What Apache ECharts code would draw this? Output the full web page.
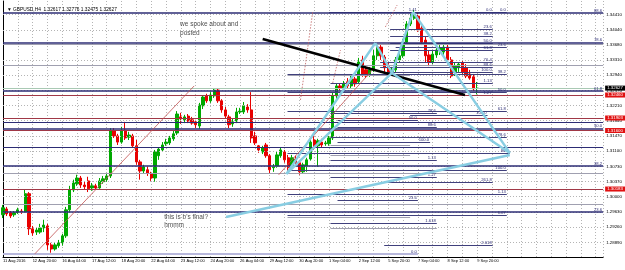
<!DOCTYPE html>
<html><head><meta charset="utf-8">
<script src="https://cdn.jsdelivr.net/npm/echarts@6.0.0/dist/echarts.min.js"></script>
<style>html,body{margin:0;padding:0;background:#fff;}#chart{width:625px;height:270px;}</style>
</head><body><div id="chart"></div>
<script>
const chartTitle = '\u25BC GBPUSD,H4  1.32617 1.32776 1.32475 1.32627';
const timeLabels = ["11 Aug 2016","12 Aug 20:00","16 Aug 04:00","17 Aug 12:00","18 Aug 20:00","22 Aug 04:00","23 Aug 12:00","24 Aug 20:00","26 Aug 04:00","29 Aug 12:00","30 Aug 20:00","1 Sep 04:00","2 Sep 12:00","5 Sep 20:00","7 Sep 04:00","8 Sep 12:00","9 Sep 20:00"];
const barsPerLabel = 8;
const priceTicks = [1.34410,1.34040,1.33680,1.33310,1.32940,1.32570,1.32210,1.31840,1.31470,1.31100,1.30730,1.30370,1.30000,1.29630,1.29260,1.28890,1.28520];
// [open, close, low, high]
const ohlc = [
[1.2956,1.2973,1.2948,1.2980],[1.2970,1.2958,1.2953,1.2975],[1.2961,1.2953,1.2948,1.2965],[1.2956,1.2961,1.2951,1.2965],
[1.2961,1.2968,1.2958,1.2973],[1.2965,1.2963,1.2958,1.2970],[1.2963,1.3007,1.2961,1.3016],[1.3007,1.2922,1.2907,1.3011],
[1.2922,1.2912,1.2905,1.2929],[1.2914,1.2919,1.2907,1.2924],[1.2914,1.2924,1.2910,1.2934],[1.2924,1.2931,1.2914,1.2944],
[1.2929,1.2883,1.2871,1.2934],[1.2883,1.2873,1.2864,1.2888],[1.2873,1.2883,1.2869,1.2888],[1.2881,1.2888,1.2876,1.2895],
[1.2888,1.2905,1.2881,1.2910],[1.2905,1.2968,1.2900,1.2975],[1.2968,1.3016,1.2963,1.3026],[1.3016,1.3033,1.3011,1.3041],
[1.3031,1.3045,1.3026,1.3053],[1.3045,1.3028,1.3021,1.3050],[1.3028,1.3024,1.3016,1.3036],[1.3038,1.3019,1.3011,1.3048],
[1.3021,1.3026,1.3014,1.3033],[1.3026,1.3021,1.3016,1.3031],[1.3021,1.3038,1.3019,1.3045],[1.3036,1.3043,1.3031,1.3050],
[1.3041,1.3050,1.3036,1.3055],[1.3050,1.3159,1.3045,1.3166],[1.3159,1.3147,1.3142,1.3166],[1.3147,1.3132,1.3125,1.3152],
[1.3132,1.3161,1.3128,1.3169],[1.3161,1.3142,1.3137,1.3181],[1.3144,1.3149,1.3137,1.3157],[1.3147,1.3123,1.3118,1.3152],
[1.3123,1.3084,1.3077,1.3137],[1.3084,1.3062,1.3041,1.3089],[1.3062,1.3072,1.3057,1.3077],[1.3065,1.3057,1.3050,1.3072],
[1.3055,1.3045,1.3038,1.3060],[1.3045,1.3108,1.3036,1.3113],[1.3099,1.3115,1.3089,1.3120],[1.3113,1.3125,1.3108,1.3132],
[1.3128,1.3132,1.3123,1.3140],[1.3130,1.3142,1.3125,1.3147],[1.3140,1.3152,1.3135,1.3159],[1.3154,1.3200,1.3149,1.3207],
[1.3193,1.3188,1.3176,1.3203],[1.3186,1.3193,1.3178,1.3198],[1.3195,1.3183,1.3178,1.3200],[1.3186,1.3178,1.3174,1.3193],
[1.3181,1.3174,1.3166,1.3186],[1.3171,1.3222,1.3164,1.3227],[1.3220,1.3241,1.3212,1.3246],[1.3244,1.3232,1.3227,1.3249],
[1.3232,1.3246,1.3227,1.3253],[1.3244,1.3258,1.3239,1.3263],[1.3258,1.3232,1.3227,1.3263],[1.3232,1.3210,1.3203,1.3236],
[1.3210,1.3195,1.3188,1.3217],[1.3193,1.3174,1.3166,1.3198],[1.3176,1.3181,1.3169,1.3188],[1.3183,1.3205,1.3178,1.3215],
[1.3205,1.3207,1.3200,1.3215],[1.3205,1.3220,1.3200,1.3229],[1.3217,1.3210,1.3203,1.3224],[1.3210,1.3142,1.3130,1.3253],
[1.3147,1.3130,1.3125,1.3157],[1.3123,1.3113,1.3106,1.3125],[1.3108,1.3118,1.3103,1.3123],[1.3125,1.3099,1.3094,1.3130],
[1.3099,1.3065,1.3057,1.3103],[1.3070,1.3072,1.3060,1.3079],[1.3074,1.3101,1.3070,1.3108],[1.3099,1.3113,1.3094,1.3120],
[1.3108,1.3089,1.3082,1.3113],[1.3094,1.3070,1.3062,1.3101],[1.3074,1.3094,1.3070,1.3101],[1.3091,1.3082,1.3074,1.3099],
[1.3082,1.3060,1.3053,1.3087],[1.3060,1.3077,1.3055,1.3082],[1.3074,1.3089,1.3060,1.3094],[1.3091,1.3132,1.3087,1.3144],
[1.3137,1.3123,1.3113,1.3147],[1.3123,1.3135,1.3072,1.3140],[1.3132,1.3125,1.3120,1.3140],[1.3128,1.3130,1.3123,1.3135],
[1.3128,1.3142,1.3123,1.3147],[1.3142,1.3244,1.3137,1.3251],[1.3244,1.3268,1.3236,1.3275],[1.3268,1.3263,1.3256,1.3275],
[1.3263,1.3273,1.3258,1.3280],[1.3278,1.3268,1.3263,1.3287],[1.3268,1.3285,1.3263,1.3292],[1.3285,1.3273,1.3266,1.3290],
[1.3278,1.3326,1.3273,1.3336],[1.3331,1.3297,1.3290,1.3341],[1.3307,1.3292,1.3287,1.3316],[1.3297,1.3307,1.3290,1.3314],
[1.3307,1.3341,1.3302,1.3355],[1.3341,1.3362,1.3331,1.3372],[1.3362,1.3341,1.3331,1.3367],[1.3338,1.3312,1.3302,1.3343],
[1.3316,1.3302,1.3297,1.3324],[1.3302,1.3307,1.3297,1.3314],[1.3307,1.3331,1.3302,1.3338],[1.3331,1.3341,1.3326,1.3348],
[1.3341,1.3374,1.3336,1.3382],[1.3374,1.3418,1.3370,1.3425],[1.3418,1.3432,1.3413,1.3442],[1.3432,1.3437,1.3428,1.3452],
[1.3437,1.3404,1.3399,1.3447],[1.3408,1.3374,1.3367,1.3418],[1.3379,1.3341,1.3326,1.3387],[1.3343,1.3326,1.3316,1.3355],
[1.3326,1.3345,1.3321,1.3355],[1.3343,1.3355,1.3336,1.3362],[1.3353,1.3360,1.3343,1.3367],[1.3350,1.3362,1.3343,1.3367],
[1.3362,1.3331,1.3324,1.3372],[1.3331,1.3292,1.3287,1.3338],[1.3302,1.3316,1.3292,1.3324],[1.3312,1.3321,1.3302,1.3326],
[1.3324,1.3302,1.3295,1.3329],[1.3312,1.3292,1.3287,1.3321],[1.3297,1.3287,1.3283,1.3307],[1.3290,1.3261,1.3256,1.3297],
[1.32617,1.32627,1.32475,1.32776]
];
const totalSlots = 162;
// full-width fibonacci levels [price, label]
const fibFull = [[1.34446,'88.6'],[1.33732,'78.6'],[1.32557,'61.8'],[1.31649,'50.0'],[1.30741,'38.2'],[1.29626,'23.6']];
const navyThinFull = [1.31806, 1.31201];
const grayFull = [1.33683, 1.33187, 1.30571, 1.29820];
// horizontal line objects [price, label]
const hLines = [[1.32460,''],[1.31903,''],[1.31600,''],[1.30183,'1.41']];
// partial fib segments [fromBar, toBar, price, label]
const fibSegs = [
[104.5,132.2,1.34059,'23.6'],[104.5,132.2,1.33889,'38.2'],[104.5,132.2,1.33720,'50.0'],[106,136,1.33610,'23.6'],
[104.5,132.2,1.33550,'61.8'],[101.8,132.2,1.33259,'76.4'],[101.8,132.2,1.33138,'88.6'],[101.8,132.2,1.33017,'100.0'],
[76.8,136,1.32969,'38.2'],[88.4,132.2,1.32751,'1.13'],[76.8,136,1.32533,'50.0'],[88.4,132.2,1.32460,'1.27'],
[76.8,136,1.32073,'61.8'],[88.4,117.1,1.32024,'78.6'],[109.9,130.8,1.31976,'100.0'],[90.3,112,1.31855,'50.0'],
[90.3,117.1,1.31685,'88.6'],[88.4,136,1.31443,'78.6'],[90.3,115.3,1.31322,'100.0'],[76.8,136.8,1.31055,'88.6'],
[88.4,117.1,1.30886,'1.13'],[76.8,136,1.30644,'100.0'],[88.4,117.1,1.30474,'1.27'],[101.8,132.2,1.30353,'261.8'],
[76.8,136,1.30062,'1.13'],[90.3,112,1.29917,'23.6'],[76.8,136,1.29554,'1.27'],[88.4,117.1,1.29360,'1.618'],
[102.9,132.2,1.28827,'2.618'],[109.9,132.2,1.34458,'0.0'],[109.9,136,1.34458,'0.0'],[88,112,1.34470,'1.41']
];
const graySegs = [[88.4,109.9,1.31249],[88.4,109.9,1.31007],[76.8,109.9,1.29505],[88.4,117.1,1.29239],[76.8,109.9,1.32945]];
const lavenderSeg = [0, 112, 1.28609, '0.0'];
// harmonic pattern points [bar, price]
const ptX = [76.5, 1.30550], ptA = [100.5, 1.33720], ptB = [105, 1.32994], ptC = [110.7, 1.34471], ptD = [136.8, 1.31058];
const bFinalLine = [[60.2, 1.29506], [136.8, 1.31007]];
const trendLine = [[70.1, 1.33817], [124.7, 1.32462]];
const redLines = [[[8.6, 1.28614], [51.6, 1.32680]], [[74.4, 1.30526], [99.7, 1.33067]]];
const redDotted = [[[80.3, 1.32339], [83.6, 1.34471]], [[89, 1.32751], [91.1, 1.33550]], [[103.2, 1.34107], [106.4, 1.34640]]];
const notes = [[47.8, 1.34271, 'we spoke about and\nposted'], [43.5, 1.29608, "this is b's final?\nhmmm"]];

const FONT = 'Liberation Sans';
const NAVY = '#2c2c74', MAROON = '#a03846', GRAY = '#a0a0b0', LBLUE = '#88cde2';

function seg(points, color, width, type, z) {
  return { type: 'line', data: points, symbol: 'none', silent: true, z: z,
    lineStyle: { color: color, width: width, type: type || 'solid' } };
}
function holder(z, markLine) {
  return { type: 'line', data: [], symbol: 'none', silent: true, z: z,
    markLine: Object.assign({ silent: true, symbol: ['none', 'none'], animation: false, precision: 6 }, markLine) };
}
const fibLabel = { show: true, position: 'insideEndTop', formatter: '{b}', color: NAVY, fontSize: 4.2, fontFamily: FONT, distance: [1, 0.5] };

const series = [];
series.push(holder(1, { lineStyle: { color: '#b4b4b4', type: [1, 2], width: 1 }, label: { show: false },
  data: priceTicks.map(v => ({ yAxis: v })) }));
series.push(holder(2, { lineStyle: { color: GRAY, width: 1, type: 'solid' }, label: { show: false },
  data: grayFull.map(v => ({ yAxis: v })) }));
series.push(holder(2, { lineStyle: { color: NAVY, width: 1, type: 'solid' }, label: { show: false },
  data: navyThinFull.map(v => ({ yAxis: v })) }));
series.push(holder(2, { lineStyle: { color: GRAY, width: 1, type: 'solid' }, label: { show: false },
  data: graySegs.map(s => [{ coord: [s[0], s[2]] }, { coord: [s[1], s[2]] }]) }));
series.push(holder(3, { lineStyle: { color: '#40407c', width: 1, type: 'solid' }, label: fibLabel,
  data: fibSegs.map(s => [{ coord: [s[0], s[2]], name: s[3] }, { coord: [s[1], s[2]] }]) }));
series.push(holder(3, { lineStyle: { color: '#b8b8dc', width: 2, type: 'solid' }, label: fibLabel,
  data: [[{ coord: [lavenderSeg[0], lavenderSeg[2]], name: lavenderSeg[3] }, { coord: [lavenderSeg[1], lavenderSeg[2]] }]] }));
series.push(holder(3, { lineStyle: { color: NAVY, width: 1.6, type: 'solid' }, label: fibLabel,
  data: fibFull.map(f => ({ yAxis: f[0], name: f[1] })) }));
series.push(holder(3, { lineStyle: { color: MAROON, width: 1.2, type: 'solid' },
  label: { show: true, position: 'end', distance: 2, formatter: p => Number(p.value).toFixed(5), color: '#fff', backgroundColor: '#e01010', padding: [1, 3, 0, 2], fontSize: 4.4, fontFamily: FONT },
  data: hLines.map(h => ({ yAxis: h[0] })) }));
series.push(holder(3, { lineStyle: { opacity: 0 }, label: fibLabel,
  data: hLines.filter(h => h[1]).map(h => ({ yAxis: h[0], name: h[1] })) }));
series.push(holder(3, { lineStyle: { color: '#a9c9b4', width: 1, type: 'solid' },
  label: { show: true, position: 'end', distance: 2, formatter: p => Number(p.value).toFixed(5), color: '#fff', backgroundColor: '#000', padding: [1, 3, 0, 2], fontSize: 4.4, fontFamily: FONT },
  data: [{ yAxis: ohlc[ohlc.length - 1][1] }] }));
series.push({ type: 'candlestick', z: 4, barWidth: 2.8, silent: true,
  data: ohlc.map((d, i) => [i, d[0], d[1], d[2], d[3]]), encode: { x: 0, y: [1, 2, 3, 4] },
  itemStyle: { color: '#00a800', color0: '#e80000', borderColor: '#00a800', borderColor0: '#e80000', borderWidth: 1 } });
redLines.forEach(l => series.push(seg(l, '#c05050', 0.8, 'solid', 5)));
redDotted.forEach(l => series.push(seg(l, '#c06060', 0.8, [1.5, 1.5], 5)));
series.push(seg(trendLine, '#000', 2.6, 'solid', 6));
[[ptX, ptA], [ptA, ptB], [ptX, ptB], [ptB, ptC], [ptC, ptD], [ptB, ptD]].forEach(p => series.push(seg(p, LBLUE, 2.4, 'solid', 7)));
series.push(seg(bFinalLine, LBLUE, 2.4, 'solid', 7));
series.push({ type: 'scatter', symbolSize: 0, silent: true, z: 8,
  data: notes.map(n => ({ value: [n[0], n[1]], name: n[2] })),
  label: { show: true, position: [0, 0], align: 'left', verticalAlign: 'top', formatter: '{b}', fontSize: 6.5, lineHeight: 8.6, color: '#222', fontFamily: FONT } });

const chart = echarts.init(document.getElementById('chart'), null, { renderer: 'canvas' });
chart.setOption({
  animation: false,
  backgroundColor: '#fff',
  title: { text: chartTitle, left: 2, top: 2, textStyle: { fontSize: 4.8, fontWeight: 'normal', color: '#000', fontFamily: FONT } },
  grid: { left: 1, right: 21, top: 1, bottom: 13 },
  xAxis: { type: 'value', min: 0, max: totalSlots, interval: 4,
    axisLine: { show: true, lineStyle: { color: '#000', width: 1 } }, axisTick: { show: false },
    splitLine: { show: true, lineStyle: { color: '#b4b4b4', type: [1, 2], width: 1 } },
    axisLabel: { show: true, showMaxLabel: false, hideOverlap: false, margin: 2, align: 'left', fontSize: 4, color: '#000', fontFamily: FONT,
      formatter: v => (v % barsPerLabel === 0 && timeLabels[v / barsPerLabel]) || '' } },
  yAxis: { type: 'value', position: 'right', min: 1.28537, max: 1.34737, scale: true,
    axisLine: { show: true, lineStyle: { color: '#000', width: 1 } }, axisTick: { show: false }, splitLine: { show: false },
    axisLabel: { show: true, customValues: priceTicks, margin: 3, fontSize: 4.4, color: '#000', fontFamily: FONT, formatter: v => v.toFixed(5) } },
  series: series
});
</script>
</body></html>
